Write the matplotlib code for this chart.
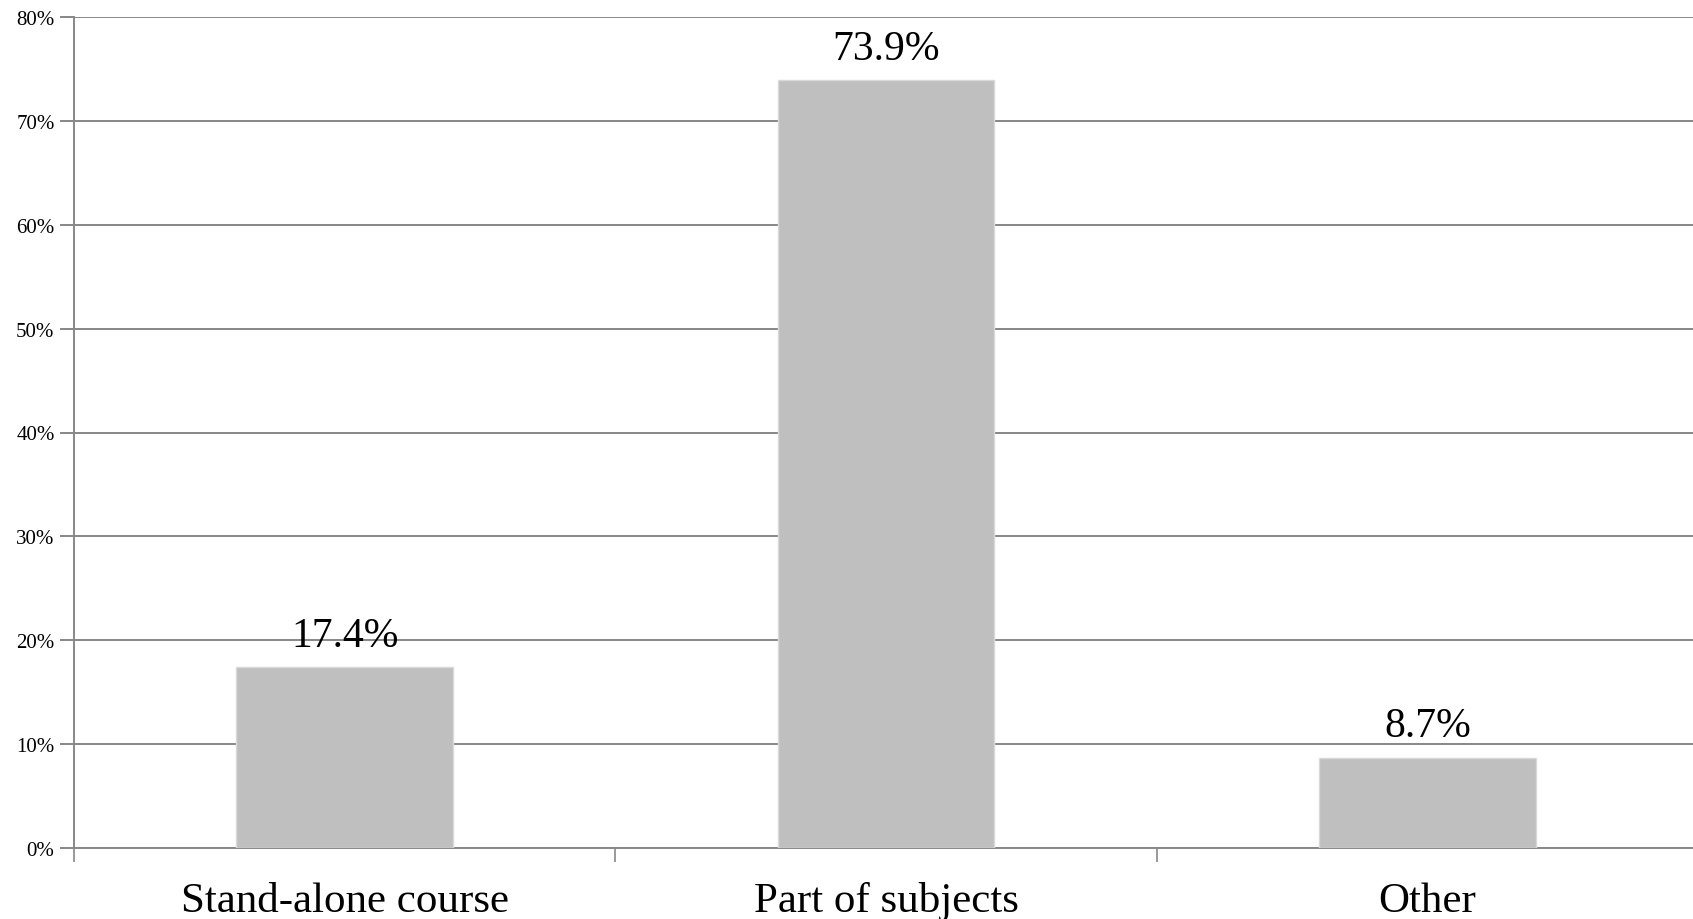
import matplotlib
matplotlib.use("Agg")
import matplotlib.pyplot as plt
from matplotlib.ticker import FuncFormatter

categories = ["Stand-alone course", "Part of subjects", "Other"]
shares = [17.4, 73.9, 8.7]
yticks = [0, 10, 20, 30, 40, 50, 60, 70, 80]

plt.rcParams['font.family'] = ['Liberation Serif', 'DejaVu Serif']

fig = plt.figure(figsize=(16.93, 9.20), dpi=100)
ax = fig.add_axes([74/1693, 71/920, 1 - 74/1693 + 0.003, 831/920])

grid_col = "#878787"
x = range(len(categories))
bars = ax.bar(x, shares, width=0.4, color="#bfbfbf", edgecolor="#d9d9d9",
              linewidth=1, zorder=3)

for b, v in zip(bars, shares):
    ax.annotate(f"{v}%", (b.get_x() + b.get_width() / 2, v),
                xytext=(0, 9), textcoords="offset points",
                ha="center", va="bottom", fontsize=30, zorder=4)

ax.set_xlim(-0.5, 2.5)
ax.set_ylim(0, 80)
ax.set_yticks(yticks)
ax.yaxis.set_major_formatter(FuncFormatter(lambda v, p: f"{v:.0f}%"))
ax.yaxis.grid(True, color=grid_col, linewidth=1.4, zorder=0)

# category boundaries carry the ticks, labels sit in the middle
ax.set_xticks([-0.5, 0.5, 1.5, 2.5])
ax.set_xticklabels([])
ax.set_xticks(list(x), minor=True)
ax.set_xticklabels(categories, minor=True, fontsize=31)
ax.tick_params(axis="x", which="major", length=10, width=1.2, color=grid_col)
ax.tick_params(axis="x", which="minor", length=0, pad=24)
ax.tick_params(axis="y", length=10, width=1.4, color=grid_col, labelsize=15, pad=4)

for side in ["top", "right"]:
    ax.spines[side].set_visible(False)
for side in ["left", "bottom"]:
    ax.spines[side].set_color(grid_col)
    ax.spines[side].set_linewidth(1.4)

fig.savefig("out.png", dpi=100)
